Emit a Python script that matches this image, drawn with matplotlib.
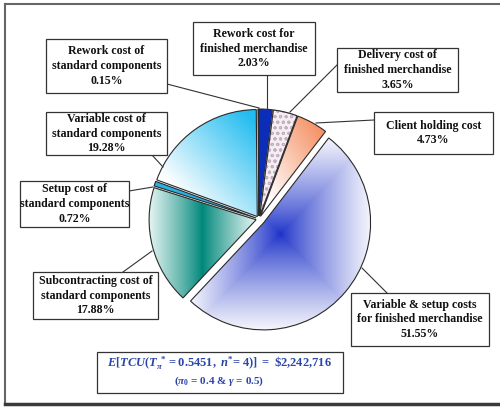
import numpy as np
import matplotlib
matplotlib.use("Agg")
import matplotlib.pyplot as plt
from matplotlib import patches as mpatches
from matplotlib.colors import to_rgb

# Cost components of E[TCU], clockwise from 12 o'clock
categories = [
    "Rework cost for\nfinished merchandise",
    "Delivery cost of\nfinished merchandise",
    "Client holding cost",
    "Variable & setup costs\nfor finished merchandise",
    "Subcontracting cost of\nstandard components",
    "Setup cost of\nstandard components",
    "Variable cost of\nstandard components",
    "Rework cost of\nstandard components",
]
shares = [2.03, 3.65, 4.73, 51.55, 17.88, 0.72, 19.28, 0.15]
share_labels = ["2.03%", "3.65%", "4.73%", "51.55%", "17.88%", "0.72%", "19.28%", "0.15%"]

W, H = 500, 408
plt.rcParams["mathtext.fontset"] = "custom"
plt.rcParams["mathtext.rm"] = "Liberation Serif:bold"
plt.rcParams["mathtext.it"] = "Liberation Serif:bold:italic"
plt.rcParams["mathtext.bf"] = "Liberation Serif:bold"
plt.rcParams["hatch.linewidth"] = 0.7

fig = plt.figure(figsize=(W / 100, H / 100), dpi=100)
ax = fig.add_axes([0, 0, 1, 1])


def Y(y):
    # canvas rows are counted from the top
    return H - y


center = (259, Y(219))
radius = 107
explode = [3, 3, 3, 6, 3, 3, 3, 3]

wedges, _ = ax.pie(shares, startangle=90, counterclock=False, radius=radius,
                   center=center, explode=explode, frame=True,
                   wedgeprops=dict(edgecolor="#2a2a2a", linewidth=0.8))


def lerp(c0, c1, t):
    c0 = np.array(to_rgb(c0))
    c1 = np.array(to_rgb(c1))
    t = np.clip(t, 0, 1)[..., None]
    return c0 * (1 - t) + c1 * t


def fill_gradient(wedge, shader, n=200):
    ext = wedge.get_path().get_extents(wedge.get_patch_transform())
    u, v = np.meshgrid(np.linspace(0, 1, n), np.linspace(0, 1, n))
    img = shader(u, v)
    im = ax.imshow(img, extent=[ext.x0, ext.x1, ext.y0, ext.y1], origin="lower",
                   interpolation="bilinear", zorder=1)
    im.set_clip_path(wedge)
    wedge.set_facecolor("none")
    wedge.set_zorder(2)


# solid / patterned slices
wedges[0].set_facecolor("#0c2db8")
wedges[5].set_facecolor("#2ab0e2")
wedges[7].set_facecolor("#a8def5")
wedges[1].set_facecolor("#f4edf2")
wedges[1].set_edgecolor("#c2aec0")
wedges[1].set_hatch("ooo")
outline = mpatches.Wedge(wedges[1].center, wedges[1].r, wedges[1].theta1,
                         wedges[1].theta2, facecolor="none",
                         edgecolor="#2a2a2a", linewidth=0.8, zorder=3)
ax.add_patch(outline)

# client holding: orange towards the outer corner
fill_gradient(wedges[2], lambda u, v: lerp("#ffffff", "#f5895a",
                                           np.clip(((u + v) / 2 - 0.15) / 0.8, 0, 1)))
# variable & setup: rectangular gradient from the centre
fill_gradient(wedges[3], lambda u, v: lerp("#1a30c8", "#f5f5fc",
                                           (2 * np.maximum(abs(u - 0.5), abs(v - 0.5))) ** 0.8))
# subcontracting: dark band through the middle
fill_gradient(wedges[4], lambda u, v: lerp("#00877a", "#e4f4f2",
                                           (2 * abs(u - 0.5)) ** 0.9))
# variable cost of standard components
fill_gradient(wedges[6], lambda u, v: lerp("#ffffff", "#22bcf0",
                                           np.clip(((u + v) / 2 - 0.22) / 0.72, 0, 1)))

# label boxes: (left, top, right, bottom) in canvas rows
boxes = [
    (193, 22, 315, 75),
    (337, 48, 458, 92),
    (374, 112, 493, 154),
    (351, 293, 489, 346),
    (33, 272, 158, 319),
    (20, 181, 129, 227),
    (46, 112, 167, 155),
    (46, 39, 167, 93),
]
leaders = [
    ((267, 75), (267, 110)),
    ((337, 65), (290, 112)),
    ((374, 120), (316, 123)),
    ((387, 293), (362, 268)),
    ((123, 272), (152, 251)),
    ((129, 191), (153, 187)),
    ((152, 155), (163, 167)),
    ((167, 84), (259, 108)),
]

for cat, lab, (x0, y0, x1, y1), (p, q) in zip(categories, share_labels, boxes, leaders):
    ax.plot([p[0], q[0]], [Y(p[1]), Y(q[1])], color="#333333", lw=0.8, zorder=4)
    ax.add_patch(mpatches.Rectangle((x0, Y(y1)), x1 - x0, y1 - y0, facecolor="white",
                                    edgecolor="#333333", lw=0.9, zorder=5))
    ax.text((x0 + x1) / 2, Y((y0 + y1) / 2), cat + "\n" + lab, ha="center", va="center",
            family="Liberation Serif", fontweight="bold", fontsize=8.6, linespacing=1.3,
            color="#111111", zorder=6)

# expected total cost box
ax.add_patch(mpatches.Rectangle((97, Y(393)), 246, 41, facecolor="white",
                                edgecolor="#333333", lw=0.9, zorder=5))
ax.text(219, Y(363),
        r"$E[TCU(T_\pi^{\ *} = 0.5451,\ n^{*}\!= 4)]\ =\ \$2{,}242{,}716$",
        ha="center", va="center", fontsize=9, color="#2a45a8", zorder=6)
ax.text(219, Y(381), r"($\pi_0$ = 0.4 & $\gamma$ = 0.5)",
        family="Liberation Serif", fontweight="bold",
        ha="center", va="center", fontsize=8, color="#2a45a8", zorder=6)

# outer frame
ax.plot([5, 5], [Y(4), Y(404)], color="#666666", lw=1.5, zorder=7)
ax.plot([5, W], [Y(4), Y(4)], color="#666666", lw=1.5, zorder=7)
ax.plot([5, W], [Y(404), Y(404)], color="#3a3a3a", lw=2.5, zorder=7)

ax.set_xlim(0, W)
ax.set_ylim(0, H)
ax.set_aspect("equal")
ax.axis("off")
fig.savefig("out.png", dpi=100)
